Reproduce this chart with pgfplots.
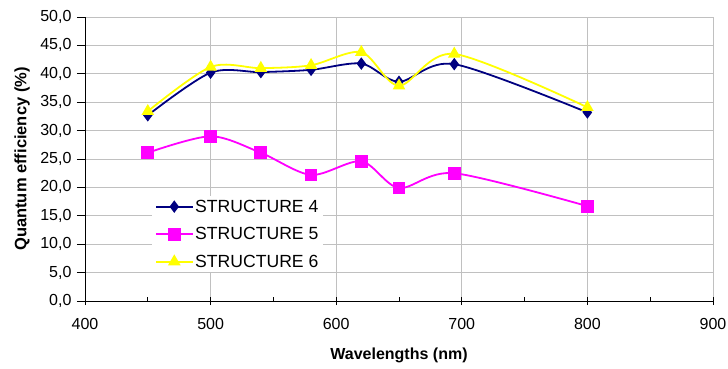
\documentclass[border=0pt]{standalone}
\usepackage{fontspec}
\setmainfont{Liberation Sans}
\usepackage{pgfplots}
\pgfplotsset{compat=1.18}
\definecolor{snavy}{HTML}{000080}
\definecolor{smag}{HTML}{FF00FF}
\definecolor{syel}{HTML}{FFFF00}
\definecolor{gridgray}{HTML}{C0C0C0}
\begin{document}
\begin{tikzpicture}
\path[use as bounding box] (-85pt,-67pt) rectangle (643pt,301pt);
\begin{axis}[
  at={(0pt,0pt)}, anchor=south west,
  scale only axis, width=628pt, height=284pt,
  xmin=400, xmax=900, ymin=0, ymax=50,
  xtick={400,500,...,900}, ytick={0,5,...,50},
  minor x tick num=1,
  axis x line*=bottom, axis y line*=left,
  axis line style={black, line width=0.9pt},
  grid=major,
  major grid style={draw=gridgray, line width=0.9pt},
  tick style={black, line width=0.9pt},
  tick align=center,
  major tick length=8pt, minor tick length=4pt,
  every major y tick/.append style={xshift=-4pt},
  every minor x tick/.append style={yshift=2pt},
  /pgf/number format/assume math mode=true,
  ticklabel style={font=\fontsize{16}{16}\selectfont},
  yticklabel style={xshift=-6pt, /pgf/number format/.cd, fixed, fixed zerofill, precision=1, use comma},
  xticklabel style={yshift=-10pt, /pgf/number format/.cd, 1000 sep={}},
  xlabel={Wavelengths (nm)},
  ylabel={Quantum efficiency (\%)},
  xlabel style={font=\fontsize{16}{16}\selectfont\bfseries, at={(axis description cs:0.5,-0.193)}, anchor=center},
  ylabel style={font=\fontsize{16.5}{16.5}\selectfont\bfseries, at={(axis description cs:-0.1,0.5)}, anchor=center, rotate=0},
  legend style={at={(axis description cs:0.107,0.37)}, anchor=north west, draw=none, fill=white,
    font=\fontsize{17.6}{17.6}\selectfont, inner xsep=3pt, inner ysep=2pt, row sep=10.5pt,
    nodes={inner sep=2pt, text height=12pt, text depth=1pt}},
  legend cell align=left,
  legend image code/.code={\draw[mark repeat=2,mark phase=2] plot coordinates {(0pt,0pt) (18pt,0pt) (36pt,0pt)};},
  clip=false,
]
\addplot[snavy, line width=1.8pt, smooth, mark=diamond*, mark size=4.8pt, mark options={solid, fill=snavy}]
  coordinates {(450,32.7) (500,40.2) (540,40.3) (580,40.7) (620,41.8) (650,38.6) (694,41.7) (800,33.2)};
\addlegendentry{STRUCTURE 4}
\addplot[smag, line width=1.8pt, smooth, mark=square*, mark size=5.5pt, mark options={solid, fill=smag}]
  coordinates {(450,26.1) (500,29.0) (540,26.1) (580,22.2) (620,24.6) (650,19.9) (694,22.5) (800,16.7)};
\addlegendentry{STRUCTURE 5}
\addplot[syel, line width=1.8pt, smooth, mark=triangle*, mark size=5.5pt, mark options={solid, fill=syel}]
  coordinates {(450,33.4) (500,41.2) (540,41.0) (580,41.5) (620,43.8) (650,37.9) (694,43.5) (800,34.1)};
\addlegendentry{STRUCTURE 6}
\end{axis}
\end{tikzpicture}
\end{document}
